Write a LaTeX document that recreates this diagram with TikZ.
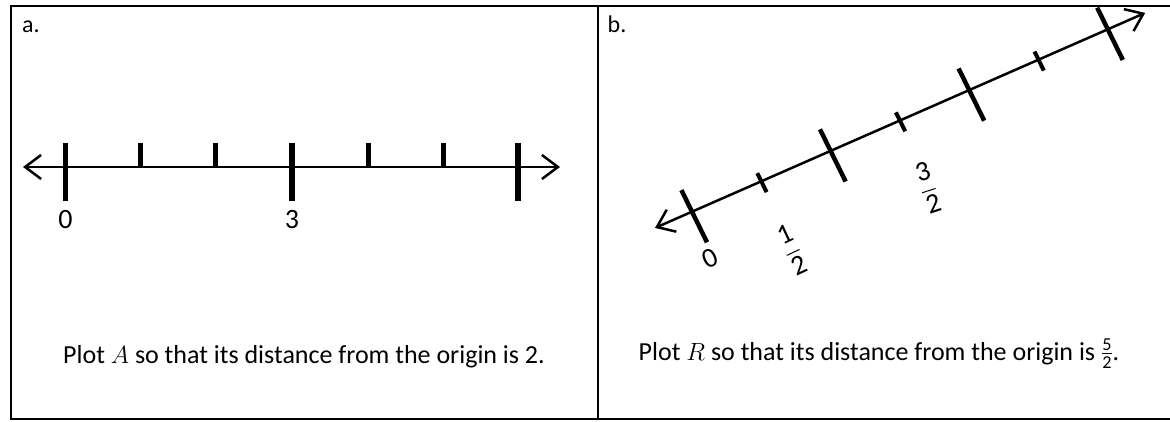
\documentclass[tikz,border=0pt]{standalone}
\usepackage{amsmath}
\usepackage{fontspec}
\setmainfont{Carlito}
\usetikzlibrary{arrows.meta,calc}
\begin{document}
\begin{tikzpicture}[x=1pt,y=-1pt,
  frame/.style={line width=1.3pt},
  nline/.style={line width=2.5pt,{Straight Barb[length=16pt,width=24pt]}-{Straight Barb[length=16pt,width=24pt]}},
  bigtick/.style={line width=5.5pt},
  smalltick/.style={line width=5pt},
  btick/.style={line width=4.5pt},
  stick/.style={line width=4pt},
  txt/.style={font=\fontsize{26}{30}\selectfont, inner sep=0pt, anchor=base},
  lbl/.style={font=\fontsize{28}{32}\selectfont, inner sep=0pt},
  plbl/.style={font=\fontsize{24}{28}\selectfont, inner sep=0pt},
]
\useasboundingbox (0,0) rectangle (1170,422);
% frame
\coordinate (TL) at (11,6);
\coordinate (TR) at (1170,6);
\coordinate (BL) at (11,419);
\coordinate (BR) at (1170,419);
\coordinate (DT) at (598,6);
\coordinate (DB) at (598,419);
\draw[frame] (TR) -- (TL) -- (BL) -- (BR);
\draw[frame] (DT) -- (DB);

% ---------- panel a ----------
\node[plbl] (la) at (31,27) {a.};
\coordinate (aL) at (23,167);
\coordinate (aR) at (560,167);
\draw[nline] (aL) -- (aR);
\foreach \x in {65.5,292,518} \draw[bigtick] (\x,143) -- (\x,201);
\foreach \x in {140.5,215.5,368,443} \draw[smalltick] (\x,143) -- (\x,167);
\node[lbl] (a0) at (65.5,220) {0};
\node[lbl] (a3) at (292,220) {3};
\node[txt] (ta) at (304,363) {Plot $A$ so that its distance from the origin is 2.};

% ---------- panel b ----------
\node[plbl] (lb) at (617,24) {b.};
\coordinate (O) at (692,211.7);
\coordinate (S) at (69.3,-30.4);
\coordinate (bL) at ($(O)-0.534*(S)$);
\coordinate (bR) at ($(O)+6.54*(S)$);
\draw[nline] (bL) -- (bR);
\foreach \i in {0,2,4,6}
  \draw[btick] ($(O)+\i*(S)+(-10.6,-21.6)$) -- ($(O)+\i*(S)+(15,30.6)$);
\foreach \i in {1,3,5}
  \draw[stick] ($(O)+\i*(S)+(-4,-8.1)$) -- ($(O)+\i*(S)+(5.3,10.8)$);
\node[lbl,rotate=25] (b0) at (710,258) {0};
\node[lbl,rotate=25] (bh) at (792,250) {$\dfrac{\text{1}}{\text{2}}$};
\node[lbl,rotate=18] (bt) at (928,188) {$\dfrac{\text{3}}{\text{2}}$};
\node[txt] (tb) at (879,360) {Plot $R$ so that its distance from the origin is $\tfrac{\text{5}}{\text{2}}$.};
\end{tikzpicture}
\end{document}
